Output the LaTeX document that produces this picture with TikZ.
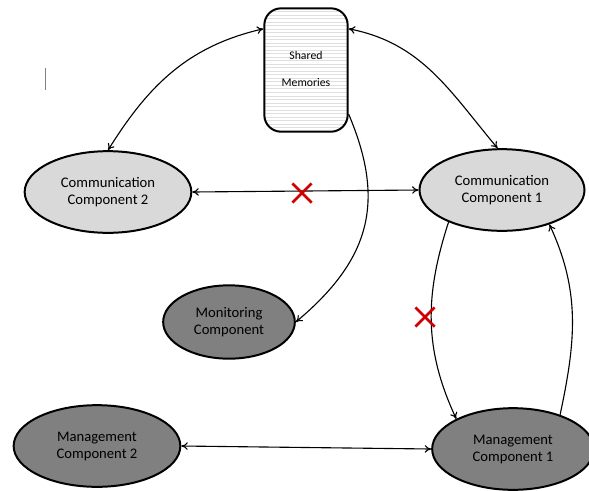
\documentclass[tikz,border=0pt]{standalone}
\usepackage{fontspec}
\setmainfont{Carlito}
\usetikzlibrary{shapes.geometric,shapes.misc,patterns,arrows.meta}

\definecolor{lightcomp}{HTML}{D9D9D9}
\definecolor{darkcomp}{HTML}{808080}
\definecolor{crossred}{HTML}{D00000}

\tikzset{
    comp/.style={ellipse, draw=black, line width=1.7pt, inner sep=0pt,
        align=center, font=\fontsize{12.5}{14.5}\selectfont},
    commcomp/.style={comp, fill=lightcomp, minimum width=5cm, minimum height=2.45cm},
    mgmtcomp/.style={comp, fill=darkcomp, minimum width=5cm, minimum height=2.45cm},
    memorybox/.style={rectangle, rounded corners=0.5cm, draw=black, line width=1.7pt,
        pattern=horizontal lines, pattern color=gray!25, align=center,
        minimum width=2.5cm, minimum height=3.7cm,
        font=\fontsize{10}{23}\selectfont},
    link/.style={line width=0.95pt, {To[length=5.5pt,width=6.5pt]}-{To[length=5.5pt,width=6.5pt]}},
    onelink/.style={line width=0.95pt, -{To[length=5.5pt,width=6.5pt]}},
    blocked/.style={cross out, draw=crossred, line width=2.2pt,
        minimum width=0.5cm, minimum height=0.5cm, inner sep=0pt}
}

\begin{document}
\begin{tikzpicture}[x=0.03cm, y=-0.03cm]
    % Frame of the picture
    \useasboundingbox (0,0) rectangle (589,490);

    % Shared memory block
    \node[memorybox] (mem) at (306,70) {\raisebox{2pt}{Shared}\\\raisebox{2pt}{Memories}};

    % Communication components
    \node[commcomp] (comm2) at (108,192) {Communication\\Component 2};
    \node[commcomp, minimum width=4.95cm] (comm1) at (502,190) {Communication\\Component 1};

    % Monitoring and management components
    \node[mgmtcomp, minimum width=3.95cm, minimum height=2.2cm] (mon) at (229,322) {Monitoring\\Component};
    \node[mgmtcomp] (mgmt2) at (97,446) {Management\\Component 2};
    \node[mgmtcomp, minimum width=4.85cm] (mgmt1) at (513,449) {Management\\Component 1};

    % Links to the shared memories
    \draw[link] (mem.136) to[out=193, in=58] (comm2.north);
    \draw[link] (mem.44) to[out=-11, in=130] (comm1.96);
    \draw[onelink] (mem.-46) to[out=-67, in=40, looseness=1.15] (mon.east);

    % Links between the components
    \draw[link] (comm2.east) -- (comm1.west);
    \draw[onelink] (comm1.211) to[out=252, in=115] (mgmt1.152);
    \draw[onelink] (mgmt1.36) to[out=78, in=-65] (comm1.-36);
    \draw[link] (mgmt2.east) -- (mgmt1.west);

    % Blocked links
    \node[blocked] (cross1) at (302,193) {};
    \node[blocked] (cross2) at (425,317) {};

    % Cursor mark
    \draw[gray, line width=0.6pt] (45,68) -- (45,90);
\end{tikzpicture}
\end{document}
